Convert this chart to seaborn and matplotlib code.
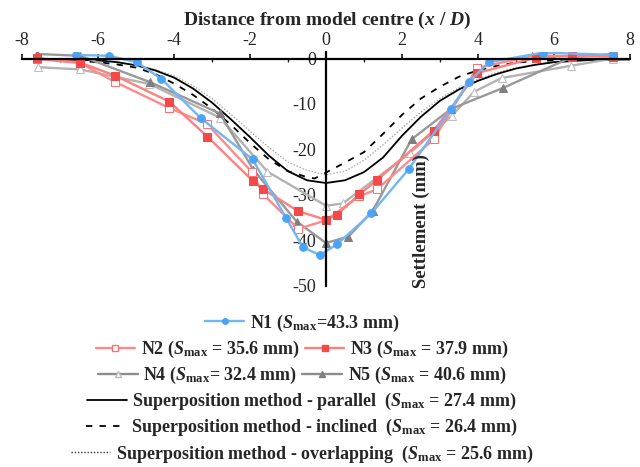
import matplotlib
matplotlib.use("Agg")
import matplotlib.pyplot as plt
from matplotlib.lines import Line2D
from matplotlib.ticker import MultipleLocator
import seaborn as sns
import pandas as pd

# ---- measured settlement troughs (x / D, settlement in mm) ----
n1_x = [-6.58, -5.72, -4.98, -4.33, -3.30, -1.93, -1.05, -0.61, -0.16, 0.30, 1.19, 2.18, 3.28, 3.76, 4.30, 5.70, 7.56]
n1_s = [0.8, 0.6, -0.8, -4.5, -13.1, -22.2, -35.1, -41.5, -43.3, -40.8, -34.1, -24.3, -11.2, -5.1, -0.8, 1.3, 0.8]

n2_x = [-7.60, -6.47, -5.54, -4.12, -3.13, -1.95, -1.65, -0.73, 0.0, 0.88, 1.34, 2.83, 3.98, 5.52, 6.47, 7.56]
n2_s = [-0.1, -1.0, -5.2, -10.9, -14.4, -25.0, -29.9, -37.5, -35.6, -30.3, -28.8, -17.8, -2.0, 0.7, 0.5, 0.6]

n3_x = [-7.60, -6.47, -5.54, -4.12, -3.12, -1.93, -1.65, -0.73, 0.0, 0.28, 0.88, 1.35, 2.83, 3.98, 5.52, 6.47, 7.56]
n3_s = [0.1, -0.9, -3.8, -9.5, -17.2, -26.9, -28.8, -33.6, -35.5, -34.4, -29.9, -26.7, -15.9, -3.2, 0.2, 0.6, 0.4]

n4_x = [-7.59, -6.47, -4.65, -2.79, -1.54, 0.0, 0.44, 2.21, 3.31, 3.90, 4.62, 6.44, 7.56]
n4_s = [-1.9, -2.4, -5.6, -13.0, -24.9, -32.4, -31.9, -20.8, -12.6, -7.3, -4.3, -1.6, 0.0]

n5_x = [-7.60, -6.47, -4.63, -2.79, -1.91, -0.77, 0.0, 0.59, 1.23, 2.25, 3.29, 4.65, 6.47, 7.56]
n5_s = [1.0, 0.6, -5.2, -12.1, -24.5, -35.9, -40.6, -39.2, -33.5, -17.8, -11.1, -6.5, 0.3, 1.0]

# ---- superposition predictions ----
sp_x = [-8, -7, -6, -5.5, -5, -4.5, -4, -3.5, -3, -2.5, -2, -1.5, -1, -0.5, 0,
        0.5, 1, 1.5, 2, 2.5, 3, 3.5, 4, 4.5, 5, 5.5, 6, 7, 8]
parallel_s = [-0.1, -0.2, -0.4, -0.8, -1.5, -2.6, -4.2, -6.6, -9.7, -13.4, -17.3, -21.4, -24.8, -26.8, -27.4,
              -26.8, -25.0, -21.8, -17.0, -12.8, -9.3, -6.8, -4.9, -3.4, -2.2, -1.4, -0.8, -0.3, -0.2]
overlap_s = [-0.1, -0.2, -0.5, -0.8, -1.4, -2.4, -3.8, -6.0, -8.8, -12.3, -16.0, -19.6, -22.8, -24.6, -25.6,
             -24.8, -22.4, -19.0, -15.3, -11.8, -8.8, -6.4, -4.5, -3.1, -2.0, -1.3, -0.8, -0.3, -0.1]
incl_x = [-8, -7, -6, -5.5, -5, -4.5, -4, -3.5, -3, -2.5, -2, -1.5, -1, -0.5, -0.3, 0,
          0.5, 1, 1.5, 2, 2.5, 3, 3.5, 4, 4.5, 5, 5.5, 6, 7, 8]
inclined_s = [-0.1, -0.3, -0.8, -1.3, -2.0, -3.4, -5.5, -8.0, -11.0, -14.6, -18.6, -22.2, -24.8, -26.1, -26.4, -25.1,
              -22.9, -20.6, -16.6, -12.4, -8.8, -6.2, -4.0, -2.6, -1.6, -0.9, -0.6, -0.4, -0.2, -0.1]

labels = [
    r"N1 ($S_{\mathrm{max}}$=43.3 mm)",
    r"N2 ($S_{\mathrm{max}}$ = 35.6 mm)",
    r"N3 ($S_{\mathrm{max}}$ = 37.9 mm)",
    r"N4 ($S_{\mathrm{max}}$= 32.4 mm)",
    r"N5 ($S_{\mathrm{max}}$ = 40.6 mm)",
    r"Superposition method - parallel  ($S_{\mathrm{max}}$ = 27.4 mm)",
    r"Superposition method - inclined  ($S_{\mathrm{max}}$ = 26.4 mm)",
    r"Superposition method - overlapping  ($S_{\mathrm{max}}$ = 25.6 mm)",
]

sns.set_style("white")
plt.rcParams["font.family"] = ["Liberation Serif", "DejaVu Serif"]
plt.rcParams["mathtext.fontset"] = "custom"
plt.rcParams["mathtext.rm"] = "Liberation Serif:bold"
plt.rcParams["mathtext.bf"] = "Liberation Serif:bold"
plt.rcParams["mathtext.it"] = "Liberation Serif:italic:bold"
plt.rcParams["axes.unicode_minus"] = False

fig = plt.figure(figsize=(6.4, 4.67), dpi=100)
ax = fig.add_axes([22 / 640, 1 - 285.7 / 467, 608 / 640, (285.7 - 51.7) / 467])

styles = {
    "par": dict(color="black", lw=1.3, ls="-"),
    "inc": dict(color="black", lw=1.3, ls=(0, (3.5, 4))),
    "ovl": dict(color="#a8a8a8", lw=1.0, ls=(0, (1, 1.3))),
    "N1": dict(color="#72b6f3", lw=1.7, marker="o", ms=5.5, mfc="#4aa3f5", mec="#4aa3f5"),
    "N2": dict(color="#ff8a8a", lw=1.7, marker="s", ms=5.5, mfc="white", mec="#ff7070"),
    "N3": dict(color="#ff8080", lw=1.7, marker="s", ms=5.5, mfc="#f54848", mec="#f54848"),
    "N4": dict(color="#b3b3b3", lw=1.7, marker="^", ms=6, mfc="white", mec="#bdbdbd"),
    "N5": dict(color="#999999", lw=1.7, marker="^", ms=6, mfc="#7f7f7f", mec="#7f7f7f"),
}

def draw(x, s, key):
    df = pd.DataFrame({"x": x, "s": s})
    sns.lineplot(data=df, x="x", y="s", ax=ax, sort=False, estimator=None,
                 legend=False, **styles[key])

draw(sp_x, overlap_s, "ovl")
draw(incl_x, inclined_s, "inc")
draw(sp_x, parallel_s, "par")
draw(n4_x, n4_s, "N4")
draw(n5_x, n5_s, "N5")
draw(n2_x, n2_s, "N2")
draw(n3_x, n3_s, "N3")
draw(n1_x, n1_s, "N1")

ax.set_xlim(-8, 8)
ax.set_ylim(-50, 1.5)
ax.set_xlabel("")
ax.set_ylabel("")

# axes cross at the origin: distance axis along y = 0, settlement axis along x = 0
for side in ("bottom", "right"):
    ax.spines[side].set_visible(False)
ax.spines["top"].set_position(("data", 0))
ax.spines["left"].set_position(("data", 0))
for side in ("top", "left"):
    ax.spines[side].set_linewidth(1.6)
    ax.spines[side].set_color("black")

ax.xaxis.tick_top()
ax.xaxis.set_major_locator(MultipleLocator(2))
ax.xaxis.set_minor_locator(MultipleLocator(1))
ax.yaxis.set_major_locator(MultipleLocator(10))
ax.yaxis.set_minor_locator(MultipleLocator(5))
ax.tick_params(axis="x", which="major", direction="out", length=3.5, width=1.3, pad=3, labelsize=13)
ax.tick_params(axis="x", which="minor", direction="in", length=2.5, width=1.0)
ax.tick_params(axis="y", which="major", direction="out", length=4, width=1.3, pad=3, labelsize=13)
ax.tick_params(axis="y", which="minor", direction="out", length=2.5, width=1.0)
ax.set_xticks([-8, -6, -4, -2, 0, 2, 4, 6, 8])
ax.set_xticklabels(["-8", "-6", "-4", "-2", "0", "2", "4", "6", "8"])
ax.set_yticks([0, -10, -20, -30, -40, -50])
ax.set_yticklabels(["0", "-10", "-20", "-30", "-40", "-50"])
ax.patch.set_alpha(0)

ax.text(2.5, -50.4, "Settlement (mm)", rotation=90, ha="center", va="bottom",
        fontsize=13.5, fontweight="bold")
fig.text(327 / 640, 1 - 20 / 467, r"Distance from model centre ($x$ / $D$)",
         ha="center", va="center", fontsize=14, fontweight="bold")

# legend rows beneath the axes
def handle(key, color=None):
    st = dict(styles[key])
    kw = dict(color=color or st["color"], lw=st["lw"], ls=st.get("ls", "-"))
    if "marker" in st:
        kw.update(marker=st["marker"], ms=st["ms"] - 1.5, mfc=st["mfc"], mec=st["mec"])
    return Line2D([], [], **kw)

rows = [
    ([handle("N1")], [labels[0]], 323),
    ([handle("N2"), handle("N3")], [labels[1], labels[2]], 349.5),
    ([handle("N4", "#8c8c8c"), handle("N5", "#8c8c8c")], [labels[3], labels[4]], 375.5),
    ([handle("par")], [labels[5]], 401.5),
    ([handle("inc")], [labels[6]], 427.5),
    ([handle("ovl", "#333333")], [labels[7]], 454),
]
for hs, ls, yc in rows:
    fig.legend(hs, ls, loc="center", bbox_to_anchor=(302 / 640, 1 - yc / 467),
               ncol=len(hs), frameon=False, handlelength=2.2, handletextpad=0.3,
               columnspacing=0.3, borderpad=0, borderaxespad=0,
               prop={"weight": "bold", "size": 13})

fig.savefig("out.png", dpi=100)
